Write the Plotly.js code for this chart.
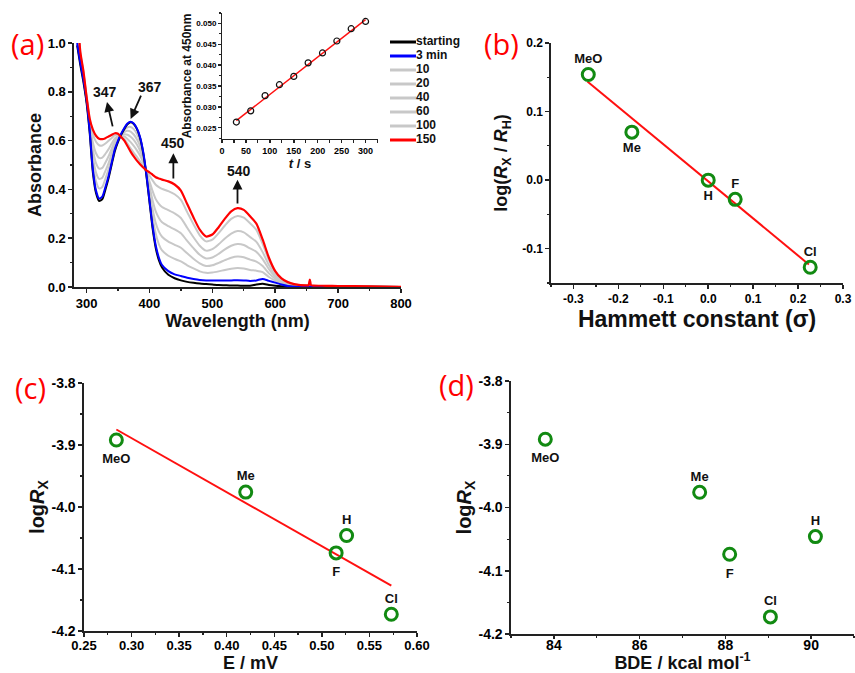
<!DOCTYPE html>
<html><head><meta charset="utf-8">
<script src="https://cdn.plot.ly/plotly-3.0.1.min.js"></script>
<style>
html,body{margin:0;padding:0;background:#fff}
#chart{width:855px;height:673px}
#chart g[class$="tick"] > text{font-weight:700 !important}
</style>
</head><body><div id="chart"></div><script>
// ---------- Panel (a): UV-vis spectra ----------
const WL = [285,290,295,300,305,310,315,320,325,330,335,340,345,350,355,360,365,370,375,380,385,390,395,400,405,410,415,420,
  430,440,450,460,470,480,490,500,510,520,530,540,550,560,570,580,590,600,610,620,630,640,650,
  653,655,657,660,680,700,750,800];
const A_START = [0.99,0.91,0.84,0.755,0.63,0.47,0.385,0.352,0.36,0.40,0.447,0.503,0.558,0.595,0.624,0.648,0.667,0.675,0.668,0.648,0.612,0.55,0.46,0.35,0.24,0.16,0.11,0.08,
  0.05,0.036,0.027,0.021,0.017,0.014,0.012,0.01,0.008,0.007,0.006,0.006,0.005,0.005,0.01,0.013,0.008,0.005,0.003,0.002,0.001,0.001,0.001,
  0.001,0.001,0.001,0.001,0.001,0.001,0.001,0.0];
const A_3MIN = [1.0,0.92,0.85,0.765,0.64,0.48,0.395,0.362,0.37,0.41,0.455,0.51,0.565,0.6,0.628,0.652,0.67,0.677,0.67,0.65,0.615,0.555,0.465,0.355,0.25,0.17,0.12,0.09,
  0.065,0.052,0.045,0.038,0.033,0.029,0.027,0.027,0.027,0.027,0.027,0.028,0.027,0.025,0.027,0.033,0.025,0.018,0.01,0.004,0.001,0,0,
  0,0,0,0,0,0,0,0];
const A_10 = [1.026,0.928,0.856,0.768,0.649,0.508,0.433,0.404,0.41,0.444,0.483,0.529,0.576,0.605,0.626,0.643,0.654,0.656,0.647,0.628,0.596,0.544,0.467,0.375,0.286,0.218,0.175,0.15,
  0.128,0.115,0.105,0.089,0.076,0.064,0.058,0.059,0.064,0.07,0.075,0.078,0.076,0.07,0.067,0.061,0.041,0.026,0.014,0.007,0.003,0.001,0.001,
  0.001,0.001,0.001,0.001,0.001,0,0,0];
const A_20 = [1.05,0.935,0.862,0.77,0.657,0.534,0.469,0.443,0.448,0.476,0.508,0.548,0.586,0.609,0.624,0.635,0.64,0.637,0.625,0.606,0.578,0.534,0.469,0.393,0.319,0.262,0.227,0.206,
  0.186,0.173,0.161,0.138,0.116,0.097,0.086,0.089,0.099,0.11,0.12,0.125,0.122,0.112,0.104,0.086,0.056,0.034,0.018,0.009,0.005,0.003,0.002,
  0.002,0.002,0.002,0.002,0.001,0.001,0,0];
const A_40 = [1.075,0.943,0.868,0.773,0.665,0.563,0.508,0.485,0.488,0.51,0.536,0.567,0.598,0.614,0.622,0.626,0.624,0.616,0.603,0.584,0.559,0.523,0.472,0.413,0.355,0.31,0.283,0.265,
  0.249,0.236,0.22,0.189,0.159,0.132,0.117,0.121,0.136,0.154,0.169,0.176,0.172,0.158,0.144,0.114,0.073,0.042,0.023,0.012,0.007,0.004,0.003,
  0.003,0.003,0.003,0.003,0.002,0.002,0.001,0];
const A_60 = [1.102,0.951,0.874,0.775,0.674,0.592,0.548,0.529,0.53,0.546,0.565,0.588,0.609,0.619,0.619,0.617,0.607,0.594,0.578,0.56,0.539,0.511,0.474,0.433,0.393,0.36,0.341,0.328,
  0.315,0.302,0.283,0.243,0.204,0.169,0.149,0.155,0.175,0.199,0.219,0.229,0.224,0.205,0.185,0.143,0.09,0.05,0.027,0.015,0.008,0.005,0.005,
  0.005,0.005,0.004,0.004,0.003,0.003,0.002,0];
const A_100 = [1.134,0.96,0.881,0.778,0.685,0.627,0.595,0.581,0.58,0.588,0.599,0.611,0.623,0.625,0.616,0.606,0.588,0.568,0.55,0.533,0.515,0.497,0.477,0.457,0.437,0.419,0.409,0.402,
  0.393,0.38,0.357,0.307,0.257,0.212,0.187,0.194,0.221,0.252,0.279,0.291,0.284,0.261,0.234,0.177,0.11,0.06,0.032,0.018,0.011,0.007,0.006,
  0.006,0.006,0.006,0.005,0.004,0.003,0.002,0];
const A_150 = [1.15,0.965,0.885,0.78,0.69,0.645,0.62,0.608,0.606,0.61,0.617,0.624,0.63,0.628,0.615,0.60,0.578,0.555,0.535,0.518,0.503,0.49,0.478,0.47,0.46,0.45,0.445,0.44,
  0.433,0.42,0.395,0.34,0.285,0.235,0.207,0.215,0.245,0.28,0.31,0.323,0.316,0.29,0.26,0.195,0.12,0.065,0.035,0.02,0.012,0.008,0.007,
  0.007,0.03,0.007,0.006,0.005,0.004,0.003,0.001];
const SERIES_NAMES = ['starting','3 min','10','20','40','60','100','150'];
const PEAK_LABELS = ['347','367','450','540'];
const A_XTICKS = [300,400,500,600,700,800];
const A_YTICKS = [0.0,0.2,0.4,0.6,0.8,1.0];

// ---------- Inset: absorbance at 450 nm vs time ----------
const T_S = [30,60,90,120,150,180,210,240,270,300];
const ABS_450 = [0.02636,0.02905,0.03269,0.03531,0.03731,0.04055,0.04293,0.04579,0.04874,0.05048];
const FIT_T = [30,300];
const FIT_ABS = [0.0267,0.0509];
const INSET_XTICKS = [0,50,100,150,200,250,300];
const INSET_YTICKS = [0.025,0.030,0.035,0.040,0.045,0.050];

// ---------- Panels (b)-(d): substituent effects ----------
const SUBST = ['MeO','Me','H','F','Cl'];
const SIGMA = [-0.267,-0.170,0.0,0.060,0.227];
const LOG_REL = [0.154,0.070,0.0,-0.028,-0.127];
const FIT_SIGMA_X = [-0.269,0.224];
const FIT_SIGMA_Y = [0.144,-0.123];
const E_MV = [0.284,0.420,0.526,0.515,0.573];
const LOG_R = [-3.892,-3.976,-4.046,-4.074,-4.173];
const FIT_E_X = [0.284,0.573];
const FIT_E_Y = [-3.875,-4.127];
const BDE = [83.8,87.4,90.1,88.1,89.05];
const B_XTICKS = [-0.3,-0.2,-0.1,0.0,0.1,0.2,0.3];
const B_YTICKS = [-0.1,0.0,0.1,0.2];
const C_XTICKS = [0.25,0.30,0.35,0.40,0.45,0.50,0.55,0.60];
const LOGR_TICKS = [-4.2,-4.1,-4.0,-3.9,-3.8];
const D_XTICKS = [84,86,88,90];

// ---------- styling ----------
const FONT = 'Liberation Sans, Arial, sans-serif';
const W = 855, H = 673;
const px = (a,b) => [a/W, b/W];
const py = (top,bottom) => [1-bottom/H, 1-top/H];
const SERIES_COLORS = ['#000000','#0000ff','#c8c8c8','#c8c8c8','#c8c8c8','#c8c8c8','#c8c8c8','#ff0000'];
const GREEN = '#128a12';
const LINE_RED = '#ff1010';
const lab = (vals, dec) => vals.map(v => '<b>' + v.toFixed(dec) + '</b>');

function axis(o){
  return Object.assign({
    showgrid:false, zeroline:false, showline:true, linecolor:'#222', linewidth:1.6,
    ticks:'outside', ticklen:4, tickwidth:1.5, tickcolor:'#222',
    tickmode:'array', tickvals:o.vals, ticktext:lab(o.vals, o.dec),
    minor:{ticks:'outside', ticklen:2.5, tickwidth:1.2, tickcolor:'#222', showgrid:false, tickmode:'linear', tick0:0, dtick:o.minorD},
    tickfont:{family:FONT, size:o.fs, color:'#000', weight:'bold'},
    fixedrange:true
  }, o.rest);
}
function ttl(text,size,standoff){ return {text:'<b>'+text+'</b>', font:{family:FONT,size:size,color:'#111',weight:'bold'}, standoff:standoff}; }

const SPECTRA = [A_START,A_3MIN,A_10,A_20,A_40,A_60,A_100,A_150];
const drawOrder = [6,5,4,3,2,0,1,7];
const traces = [];
drawOrder.forEach(i => traces.push({
  type:'scatter', mode:'lines', x:WL, y:SPECTRA[i], name:SERIES_NAMES[i],
  line:{color:SERIES_COLORS[i], width: i===7 ? 2.2 : 2, shape:'spline', smoothing:0.6},
  xaxis:'x', yaxis:'y', hoverinfo:'skip'
}));
// compact legend drawn in its own hidden axes
SERIES_NAMES.forEach((n,i) => traces.push({
  type:'scatter', mode:'lines', x:[0,1], y:[i,i], line:{color:SERIES_COLORS[i], width:3},
  xaxis:'x6', yaxis:'y6', hoverinfo:'skip'
}));
traces.push({type:'scatter', mode:'text', x:SERIES_NAMES.map(()=>1), y:SERIES_NAMES.map((n,i)=>i),
  text:SERIES_NAMES.map(n=>'<b>'+n+'</b>'), textposition:'middle right', cliponaxis:false,
  textfont:{family:FONT,size:12,color:'#111',weight:'bold'}, xaxis:'x6', yaxis:'y6', hoverinfo:'skip'});
// inset
traces.push({type:'scatter', mode:'lines', x:FIT_T, y:FIT_ABS, line:{color:LINE_RED,width:1.5}, xaxis:'x2', yaxis:'y2'});
traces.push({type:'scatter', mode:'markers', x:T_S, y:ABS_450, marker:{symbol:'circle-open', size:6, color:'#111', line:{width:1.2}}, xaxis:'x2', yaxis:'y2'});

const LBL_FONT = {family:FONT,size:13,color:'#111',weight:'bold'};
const MK = {symbol:'circle-open', size:12, color:GREEN, line:{width:3, color:GREEN}};
function pointsAndLabels(xs, ys, pos, topSize, botSize, xa, ya){
  traces.push({type:'scatter', mode:'markers', x:xs, y:ys, marker:MK, xaxis:xa, yaxis:ya});
  traces.push({type:'scatter', mode:'markers+text', x:xs, y:ys, text:SUBST.map(s=>'<b>'+s+'</b>'), cliponaxis:false,
    textposition:pos, textfont:LBL_FONT,
    marker:{size:pos.map(p => p.startsWith('bottom') ? botSize : topSize), opacity:0},
    xaxis:xa, yaxis:ya, hoverinfo:'skip'});
}
// (b)
traces.push({type:'scatter', mode:'lines', x:FIT_SIGMA_X, y:FIT_SIGMA_Y, line:{color:LINE_RED,width:2}, xaxis:'x3', yaxis:'y3'});
pointsAndLabels(SIGMA, LOG_REL, ['top center','bottom center','bottom center','top center','top center'], 11, 14, 'x3', 'y3');
// (c)
traces.push({type:'scatter', mode:'lines', x:FIT_E_X, y:FIT_E_Y, line:{color:LINE_RED,width:2}, xaxis:'x4', yaxis:'y4'});
pointsAndLabels(E_MV, LOG_R, ['bottom center','top center','top center','bottom center','top center'], 12, 20, 'x4', 'y4');
// (d)
pointsAndLabels(BDE, LOG_R, ['bottom center','top center','top center','bottom center','top center'], 12, 20, 'x5', 'y5');

const peakFont = {family:FONT,size:14,color:'#111',weight:'bold'};
function arrow(hx,hy,tx,ty){ return {xref:'x',yref:'y',axref:'x',ayref:'y',x:hx,y:hy,ax:tx,ay:ty,text:'',showarrow:true,arrowhead:2,arrowsize:1.1,arrowwidth:1.8,arrowcolor:'#111',standoff:0,startstandoff:0}; }
function note(x,y,t){ return {xref:'x',yref:'y',x:x,y:y,text:'<b>'+t+'</b>',showarrow:false,font:peakFont,xanchor:'center',yanchor:'middle'}; }
function panelLbl(x,y,t){ return {xref:'paper',yref:'paper',x:x/W,y:1-y/H,text:t,showarrow:false,xanchor:'center',yanchor:'middle',font:{family:'Open Sans, Noto Sans, sans-serif',size:29,color:'#ff0000'}}; }

const yLogR = 'log<i>R</i><sub>X</sub>';
const layout = {
  width:W, height:H, margin:{l:0,r:0,t:0,b:0}, showlegend:false,
  paper_bgcolor:'#fff', plot_bgcolor:'rgba(0,0,0,0)',
  xaxis: axis({vals:A_XTICKS, dec:0, fs:13, minorD:50, rest:{domain:px(74,401), range:[280,800], anchor:'y', title:ttl('Wavelength (nm)',18,3)}}),
  yaxis: axis({vals:A_YTICKS, dec:1, fs:13, minorD:0.1, rest:{domain:py(43,287), range:[0,1.0], anchor:'x', title:ttl('Absorbance',18,1)}}),
  xaxis2: axis({vals:INSET_XTICKS, dec:0, fs:9, minorD:25, rest:{domain:px(222,378), range:[0,326], anchor:'y2', ticklen:3, linewidth:1, title:ttl('<i>t</i> / s',13,0)}}),
  yaxis2: axis({vals:INSET_YTICKS, dec:3, fs:8, minorD:0.0025, rest:{domain:py(13,139), range:[0.0223,0.0525], anchor:'x2', ticklen:3, linewidth:1, title:ttl('Absorbance at 450nm',12,2)}}),
  xaxis3: axis({vals:B_XTICKS, dec:1, fs:12, minorD:0.05, rest:{domain:px(551,843), range:[-0.35,0.3], anchor:'y3', title:ttl('Hammett constant (σ)',23,3)}}),
  yaxis3: axis({vals:B_YTICKS, dec:1, fs:12, minorD:0.05, rest:{domain:py(43,283), range:[-0.15,0.2], anchor:'x3', title:ttl('log(<i>R</i><sub>X</sub> / <i>R</i><sub>H</sub>)',18,10)}}),
  xaxis4: axis({vals:C_XTICKS, dec:2, fs:13, minorD:0.025, rest:{domain:px(84,417), range:[0.25,0.6], anchor:'y4', ticklabelstandoff:-2, title:ttl('E / mV',18,5)}}),
  yaxis4: axis({vals:LOGR_TICKS, dec:1, fs:14, minorD:0.05, rest:{domain:py(383,631), range:[-4.2,-3.8], anchor:'x4', title:ttl(yLogR,20,0)}}),
  xaxis5: axis({vals:D_XTICKS, dec:0, fs:14, minorD:1, rest:{domain:px(511,854), range:[83,91], anchor:'y5', ticklen:3, ticklabelstandoff:-5, title:ttl('BDE / kcal mol<sup>-1</sup>',18,6)}}),
  yaxis5: axis({vals:LOGR_TICKS, dec:1, fs:14, minorD:0.05, rest:{domain:py(381,634), range:[-4.2,-3.8], anchor:'x5', title:ttl(yLogR,20,0)}}),
  xaxis6: {domain:px(390,416), range:[0,1], visible:false, anchor:'y6', fixedrange:true},
  yaxis6: {domain:py(35,147), range:[7.5,-0.5], visible:false, anchor:'x6', fixedrange:true},
  annotations: [
    arrow(332.5,0.758,342,0.652), note(329,0.80,PEAK_LABELS[0]),
    arrow(370.1,0.689,387.6,0.79), note(401,0.818,PEAK_LABELS[1]),
    arrow(438,0.548,438,0.439), note(438,0.59,PEAK_LABELS[2]),
    arrow(540,0.44,540,0.336), note(543,0.475,PEAK_LABELS[3]),
    panelLbl(27,43,'(a)'), panelLbl(501,44,'(b)'), panelLbl(30,388,'(c)'), panelLbl(456,384,'(d)')
  ]
};
Plotly.newPlot('chart', traces, layout, {displayModeBar:false, staticPlot:true});
</script></body></html>
